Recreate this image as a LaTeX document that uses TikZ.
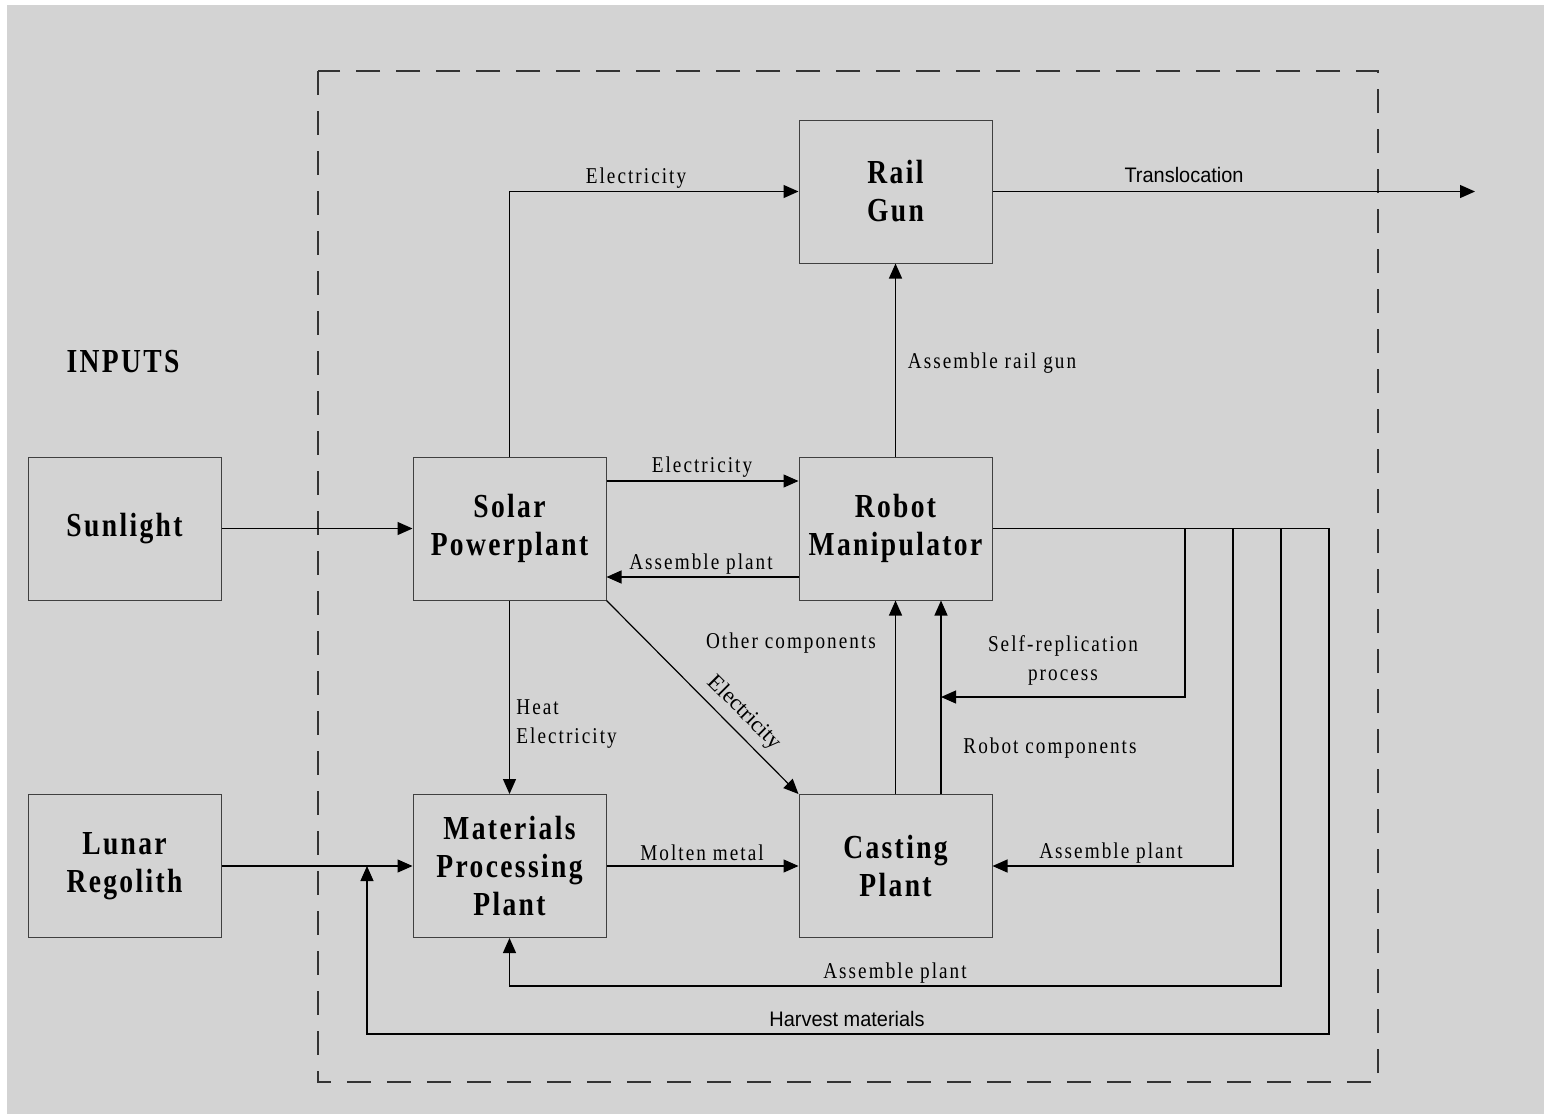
\documentclass[tikz,border=0pt]{standalone}
\usepackage{fontspec}
\setmainfont{Liberation Serif}
\newfontfamily\boxfont[FakeStretch=0.82,LetterSpace=7]{Liberation Serif}
\newfontfamily\lblfont[FakeStretch=0.85,LetterSpace=9]{Liberation Serif}
\newfontfamily\plainserif{Liberation Serif}
\newfontfamily\mysans[FakeStretch=0.95]{Liberation Sans}
\usetikzlibrary{arrows.meta}
\definecolor{bg}{HTML}{D3D3D3}
\tikzset{
  box/.style={draw=black!75, line width=0.5pt, minimum width=96.5pt, minimum height=71.5pt,
    inner sep=0pt, align=center, font=\boxfont\bfseries\fontsize{16.8}{19}\selectfont},
  lbl/.style={inner sep=0pt, align=center, font=\lblfont\fontsize{11.3}{14.5}\selectfont},
  slbl/.style={inner sep=0pt, font=\mysans\fontsize{10.5}{12}\selectfont},
  ln/.style={line width=0.6pt},
  arr/.style={line width=0.6pt, -{Triangle[length=7.5pt,width=6.5pt]}},
  frame/.style={line width=0.7pt, draw=black!80, dash pattern=on 12pt off 8pt}
}
\begin{document}
\begin{tikzpicture}[x=0.5pt,y=-0.5pt]
\useasboundingbox (0,0) rectangle (1551,1114);
\fill[white] (0,0) rectangle (1551,1114);
\fill[bg] (7,5) rectangle (1544,1114);
% system boundary
\draw[frame] (318,71) rectangle (1378,1082);
% nodes
\node[box] (rail) at (895.5,191.5) {Rail\\Gun};
\node[box] (sun) at (124.5,528.5) {Sunlight};
\node[box] (solar) at (509.5,528.5) {Solar\\Powerplant};
\node[box] (robot) at (895.5,528.5) {Robot\\Manipulator};
\node[box] (lunar) at (124.5,866) {Lunar\\Regolith};
\node[box] (mat) at (509.5,866) {Materials\\Processing\\Plant};
\node[box] (cast) at (895.5,866) {Casting\\Plant};
\node[inner sep=0pt, font=\boxfont\bfseries\fontsize{16.8}{19}\selectfont] (inputs) at (123,362) {INPUTS};
% coordinates
\coordinate (out) at (1475,191.5);
\coordinate (hv) at (367,866);
\coordinate (sr) at (941,697);
% connectors
\draw[arr] (sun.east) -- (solar.west);
\draw[arr] (lunar.east) -- (mat.west);
\draw[arr] (solar.north) |- (rail.west);
\draw[arr] (rail.east) -- (out);
\draw[arr] (robot.north) -- (rail.south);
\draw[arr] (solar.east |- 0,481) -- (robot.west |- 0,481);
\draw[arr] (robot.west |- 0,577) -- (solar.east |- 0,577);
\draw[arr] (solar.south) -- (mat.north);
\draw[arr] (solar.south east) -- (cast.north west);
\draw[arr] (mat.east) -- (cast.west);
\draw[arr] (cast.north) -- (robot.south);
\draw[arr] (cast.north -| 941,0) -- (robot.south -| 941,0);
\draw[arr] (robot.east) -| (1329,1034) -| (hv);
\draw[arr] (1185,528.5) |- (sr);
\draw[arr] (1233,528.5) |- (cast.east);
\draw[arr] (1281,528.5) |- (mat.south |- 0,986) -- (mat.south);
% labels
\node[lbl] (l1) at (636,178) {Electricity};
\node[slbl] (l2) at (1184,175) {Translocation};
\node[lbl] (l3) at (992,363) {Assemble rail gun};
\node[lbl] (l4) at (702,467) {Electricity};
\node[lbl] (l5) at (701,564) {Assemble plant};
\node[lbl, align=left, anchor=west] (l6) at (516,724.5) {Heat\\Electricity};
\node[inner sep=0pt, rotate=-45, font=\plainserif\fontsize{11.3}{13}\selectfont] (l7) at (744,713) {Electricity};
\node[lbl] (l8) at (791,643) {Other components};
\node[lbl] (l9) at (1063,660.5) {Self-replication\\process};
\node[lbl] (l10) at (1050,748) {Robot components};
\node[lbl] (l11) at (702,853) {Molten metal};
\node[lbl] (l12) at (1111,853) {Assemble plant};
\node[lbl] (l13) at (895,973) {Assemble plant};
\node[slbl] (l14) at (847,1019) {Harvest materials};
\end{tikzpicture}
\end{document}
